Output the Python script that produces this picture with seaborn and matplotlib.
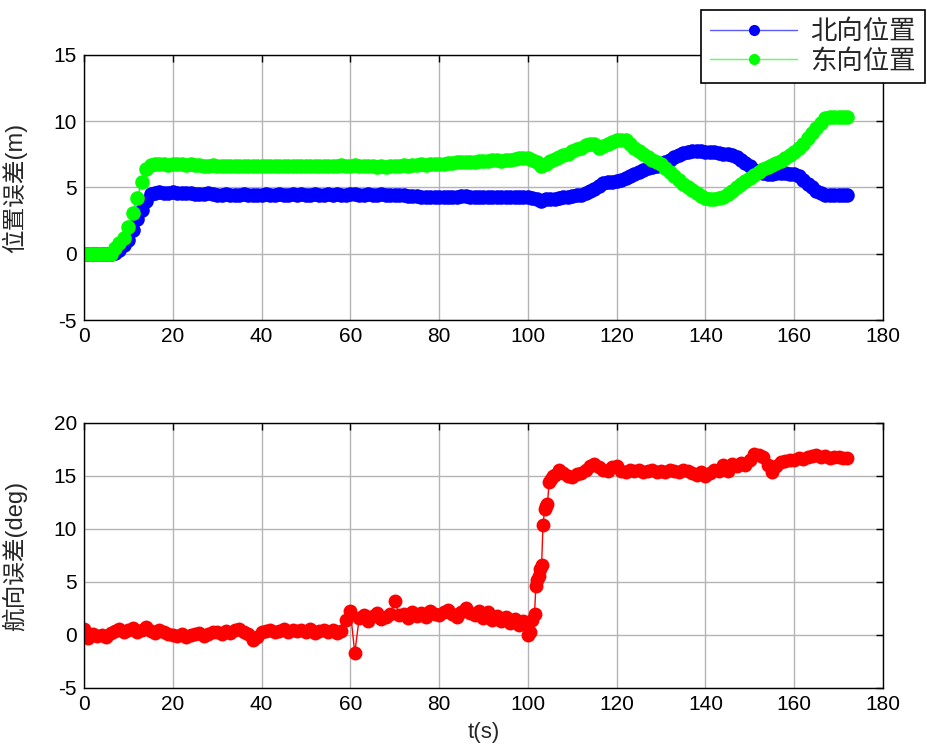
import numpy as np
import pandas as pd
import seaborn as sns
import matplotlib.pyplot as plt
from matplotlib.lines import Line2D

# position error (m), sampled every second, t = 0..172
pos_t = np.arange(0, 173)
north = [
    -0.05, -0.05, -0.05, -0.05, -0.05, -0.05, -0.05,
    0.05, 0.3, 0.65, 1.05, 1.8, 2.6, 3.3, 4.0, 4.5, 4.6,
    4.65, 4.6, 4.6, 4.65, 4.6, 4.6, 4.6, 4.55, 4.5, 4.5, 4.5, 4.55, 4.5,
    4.45, 4.45, 4.5, 4.45, 4.45, 4.45, 4.5, 4.45, 4.45, 4.45,
    4.45, 4.5, 4.45, 4.45, 4.5, 4.45, 4.45, 4.5, 4.45, 4.5,
    4.45, 4.45, 4.5, 4.45, 4.45, 4.5, 4.45, 4.5, 4.45, 4.45,
    4.5, 4.5, 4.45, 4.45, 4.5, 4.45, 4.45, 4.5, 4.45, 4.4,
    4.4, 4.45, 4.4, 4.35, 4.35, 4.35, 4.3, 4.3, 4.3, 4.3,
    4.25, 4.25, 4.25, 4.3, 4.3, 4.35, 4.35, 4.3, 4.3, 4.3,
    4.3, 4.3, 4.25, 4.3, 4.3, 4.3, 4.25, 4.3, 4.3, 4.25,
    4.25, 4.2, 4.1, 4.0, 4.1, 4.15, 4.15, 4.2, 4.25, 4.3,
    4.35, 4.4, 4.45, 4.55, 4.7, 4.85, 5.1, 5.35, 5.4, 5.45,
    5.5, 5.6, 5.7, 5.85, 6.0, 6.15, 6.3, 6.45, 6.55, 6.65,
    6.8, 6.95, 7.1, 7.3, 7.45, 7.6, 7.7, 7.75, 7.75, 7.75,
    7.7, 7.7, 7.65, 7.6, 7.55, 7.5, 7.45, 7.3, 7.1, 6.85,
    6.6, 6.35, 6.15, 6.1, 6.05, 6.05, 6.1, 6.1, 6.1, 6.05,
    6.0, 5.85, 5.6, 5.3, 5.0, 4.75, 4.55, 4.45, 4.45, 4.45,
    4.45, 4.45, 4.45,
]
east = [
    0.0, -0.05, 0.0, 0.0, -0.05, 0.0, 0.0,
    0.4, 0.8, 1.2, 2.0, 3.1, 4.2, 5.4, 6.4, 6.7, 6.75,
    6.75, 6.75, 6.7, 6.75, 6.75, 6.75, 6.7, 6.75, 6.7, 6.7, 6.65, 6.65, 6.7,
    6.6, 6.65, 6.6, 6.6, 6.65, 6.6, 6.6, 6.65, 6.6, 6.6,
    6.65, 6.6, 6.6, 6.65, 6.6, 6.65, 6.6, 6.6, 6.65, 6.6,
    6.6, 6.65, 6.6, 6.6, 6.6, 6.65, 6.6, 6.65, 6.7, 6.65,
    6.65, 6.7, 6.6, 6.6, 6.65, 6.6, 6.55, 6.6, 6.55, 6.6,
    6.6, 6.65, 6.7, 6.65, 6.7, 6.7, 6.75, 6.7, 6.75, 6.8,
    6.8, 6.8, 6.85, 6.85, 6.9, 6.9, 6.95, 6.9, 6.95, 7.0,
    7.0, 7.0, 7.05, 7.05, 7.0, 7.1, 7.1, 7.15, 7.2, 7.2,
    7.2, 7.1, 6.9, 6.65, 6.8, 7.0, 7.15, 7.3, 7.45, 7.55,
    7.75, 7.9, 8.0, 8.2, 8.25, 8.25, 8.0, 8.15, 8.3, 8.45,
    8.55, 8.6, 8.55, 8.3, 8.0, 7.75, 7.5, 7.3, 7.1, 6.95,
    6.75, 6.5, 6.2, 5.9, 5.6, 5.3, 5.05, 4.8, 4.55, 4.35,
    4.2, 4.1, 4.15, 4.2, 4.3, 4.5, 4.75, 5.0, 5.25, 5.5,
    5.7, 5.95, 6.2, 6.4, 6.55, 6.7, 6.85, 7.0, 7.2, 7.45,
    7.7, 7.95, 8.3, 8.7, 9.1, 9.5, 9.9, 10.25, 10.3, 10.3,
    10.3, 10.3, 10.3,
]

# heading error (deg): before the jump, the jump itself, after the jump
head_t_before = np.arange(0, 101)
head_before = [
    0.6, -0.3, 0.1, -0.1, 0.0, -0.2, 0.2, 0.4, 0.6, 0.3,
    0.5, 0.7, 0.3, 0.5, 0.8, 0.4, 0.2, 0.5, 0.3, 0.1,
    0.0, -0.1, 0.1, -0.2, 0.0, 0.1, 0.2, -0.1, 0.1, 0.3,
    0.3, 0.1, 0.4, 0.2, 0.5, 0.6, 0.3, 0.1, -0.5, -0.2,
    0.3, 0.4, 0.5, 0.3, 0.4, 0.6, 0.3, 0.5, 0.4, 0.5,
    0.3, 0.6, 0.2, 0.4, 0.5, 0.3, 0.5, 0.2, 0.4, 1.4,
    2.3, -1.7, 1.6, 1.9, 1.3, 1.8, 2.1, 1.5, 1.7, 2.0,
    3.2, 1.9, 2.0, 1.6, 2.2, 1.8, 2.1, 1.7, 2.3, 2.0,
    1.9, 2.2, 2.4, 2.0, 1.7, 2.2, 2.5, 2.1, 1.9, 2.3,
    1.6, 2.2, 1.4, 1.8, 1.3, 1.7, 1.1, 1.5, 0.9, 1.3,
    0.0,
]
head_t_jump = [100.5, 101.0, 101.5, 101.8, 102.1, 102.4, 102.8, 103.1,
               103.4, 103.8, 104.1, 104.4, 104.8, 105.2, 105.6]
head_jump = [0.3, 1.4, 2.0, 4.6, 5.2, 5.6, 6.2, 6.6,
             10.4, 11.9, 12.2, 12.4, 14.4, 14.7, 15.0]
head_t_after = np.arange(106, 173)
head_after = [
    15.1, 15.6, 15.3, 15.0, 14.9, 15.2, 15.3, 15.6, 15.9, 16.1,
    15.8, 15.6, 15.5, 15.8, 15.9, 15.5, 15.4, 15.6, 15.5, 15.6,
    15.4, 15.5, 15.6, 15.4, 15.5, 15.4, 15.6, 15.5, 15.4, 15.6,
    15.5, 15.3, 15.1, 15.4, 15.0, 15.3, 15.6, 15.5, 16.0, 15.5,
    16.1, 15.9, 16.2, 16.0, 16.5, 17.1, 17.0, 16.8, 16.0, 15.4,
    15.9, 16.3, 16.4, 16.5, 16.5, 16.7, 16.6, 16.8, 16.9, 17.0,
    16.8, 16.9, 16.7, 16.8, 16.8, 16.7, 16.7,
]

pos_df = pd.DataFrame({"t": pos_t, "north": north, "east": east})
head_df = pd.DataFrame({
    "t": np.concatenate([head_t_before, head_t_jump, head_t_after]),
    "heading": head_before + head_jump + head_after,
})

sns.set_style("white")
plt.rcParams["font.family"] = ["Liberation Sans", "Noto Sans CJK SC", "DejaVu Sans"]
plt.rcParams["font.size"] = 15
plt.rcParams["axes.unicode_minus"] = False

fig = plt.figure(figsize=(9.28, 7.51), dpi=100)
ax1 = fig.add_axes([0.0905, 0.5739, 0.861, 0.3529])
ax2 = fig.add_axes([0.0905, 0.0839, 0.861, 0.3529])

blue = "#0000ff"
green = "#00ff00"
red = "#ff0000"

sns.lineplot(data=pos_df, x="t", y="north", ax=ax1, color=blue, marker="o",
             markersize=10.5, markeredgewidth=0, linewidth=1, estimator=None)
sns.lineplot(data=pos_df, x="t", y="east", ax=ax1, color=green, marker="o",
             markersize=10.5, markeredgewidth=0, linewidth=1, estimator=None)
sns.lineplot(data=head_df, x="t", y="heading", ax=ax2, color=red, marker="o",
             markersize=10, markeredgewidth=0, linewidth=1, estimator=None,
             sort=False)

for ax, ylim, yticks in [(ax1, (-5, 15), [-5, 0, 5, 10, 15]),
                         (ax2, (-5, 20), [-5, 0, 5, 10, 15, 20])]:
    ax.set_xlim(0, 180)
    ax.set_ylim(*ylim)
    ax.set_xticks(range(0, 181, 20))
    ax.set_yticks(yticks)
    ax.grid(True, color="#b4b4b4", linewidth=1)
    ax.set_axisbelow(True)
    ax.tick_params(direction="in", top=True, right=True, length=5,
                   width=1, colors="black", labelsize=15, pad=5)
    for sp in ax.spines.values():
        sp.set_color("black")
        sp.set_linewidth(1)

ax1.set_xlabel("")
ax1.set_ylabel("位置误差(m)", fontsize=17)
ax2.set_xlabel("t(s)", fontsize=16, labelpad=6)
ax2.set_ylabel("航向误差(deg)", fontsize=17)
ax1.yaxis.set_label_coords(-0.071, 0.5)
ax2.yaxis.set_label_coords(-0.071, 0.5)

handles = [
    Line2D([], [], color="#5a5aff", linewidth=1, marker="o", markersize=8,
           markerfacecolor=blue, markeredgewidth=0),
    Line2D([], [], color="#5aff5a", linewidth=1, marker="o", markersize=8,
           markerfacecolor=green, markeredgewidth=0),
]
leg = fig.legend(handles, ["北向位置", "东向位置"], loc="upper right",
                 bbox_to_anchor=(925 / 928, 1 - 10 / 751),
                 bbox_transform=fig.transFigure, fancybox=False,
                 edgecolor="black", framealpha=1, fontsize=19,
                 handlelength=3.3, borderaxespad=0, labelspacing=0.2,
                 handletextpad=0.5, borderpad=0.35)
leg.get_frame().set_linewidth(1.2)

fig.savefig("out.png", dpi=100, facecolor="white")
